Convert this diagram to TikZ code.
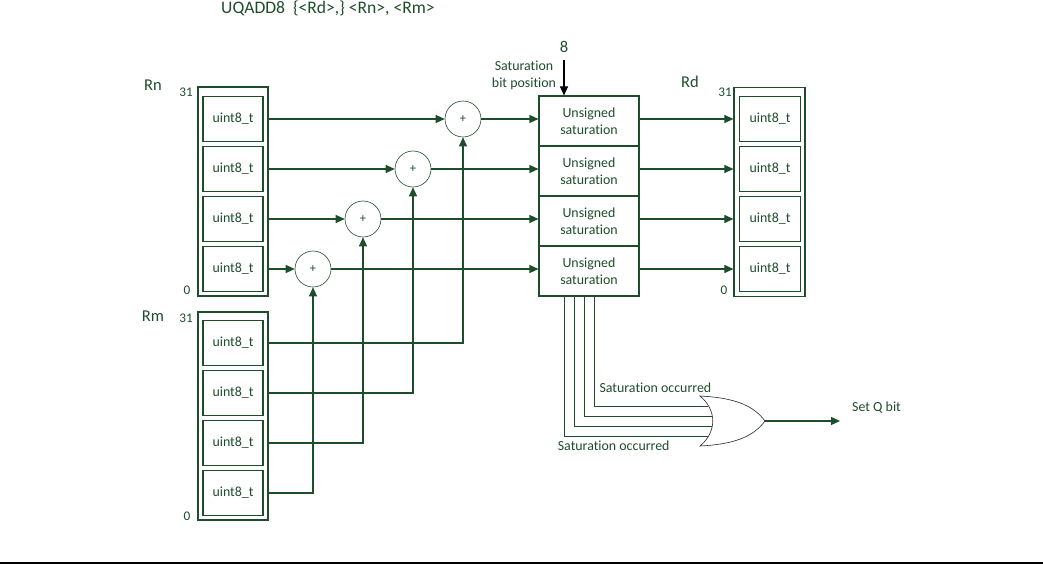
\documentclass[tikz,border=0pt]{standalone}
\usepackage{fontspec}
\setmainfont{Carlito}[Ligatures=NoCommon]
\usetikzlibrary{arrows.meta}
\definecolor{dg}{HTML}{1E4D2B}
\begin{document}
\begin{tikzpicture}[x=1pt,y=-1pt,
  base/.style={font=\fontsize{13.9}{17}\selectfont, text=dg, inner sep=0pt},
  big/.style={base, font=\fontsize{16.5}{19}\selectfont},
  num/.style={base, font=\fontsize{13.2}{15}\selectfont},
  reg/.style={draw=dg, line width=1.2pt, minimum width=70pt, inner sep=0pt},
  cell/.style={base, draw=dg, line width=1.2pt, minimum width=60pt, minimum height=45pt},
  satbox/.style={base, draw=dg, line width=1.1pt, minimum width=100pt, minimum height=50pt, align=center},
  adder/.style={base, circle, draw=dg, line width=0.6pt, minimum size=36pt, font=\fontsize{12.5}{14}\selectfont},
  wire/.style={draw=dg, line width=1.1pt},
  thinwire/.style={draw=dg, line width=0.9pt},
  arr/.style={wire, -{Triangle[length=9pt,width=8pt]}},
]
\useasboundingbox (0,0) rectangle (1043,564);

% title
\node[big, font=\fontsize{17.6}{20}\selectfont, anchor=west] (title) at (221,8) {UQADD8\ \ \{<Rd>,\} <Rn>, <Rm>};

% Rn register
\node[reg, minimum height=209pt] (rn) at (233,191.5) {};
\node[cell] (rn1) at (233,119) {uint8\_t};
\node[cell] (rn2) at (233,169) {uint8\_t};
\node[cell] (rn3) at (233,219) {uint8\_t};
\node[cell] (rn4) at (233,269) {uint8\_t};
\node[big] (rnlbl) at (153,85) {Rn};
\node[num] (rn31) at (186,92) {31};
\node[num] (rn0) at (187,290) {0};

% Rm register
\node[reg, minimum height=208pt] (rm) at (233,416) {};
\node[cell] (rm1) at (233,343) {uint8\_t};
\node[cell] (rm2) at (233,393) {uint8\_t};
\node[cell] (rm3) at (233,443) {uint8\_t};
\node[cell] (rm4) at (233,493) {uint8\_t};
\node[big] (rmlbl) at (153,316) {Rm};
\node[num] (rm31) at (186,318) {31};
\node[num] (rm0) at (187,516) {0};

% adders
\node[adder] (add1) at (463,119) {+};
\node[adder] (add2) at (413,169) {+};
\node[adder] (add3) at (363,219) {+};
\node[adder] (add4) at (313,269) {+};

% saturation boxes
\node[satbox] (sat1) at (589,121) {Unsigned\\saturation};
\node[satbox] (sat2) at (589,171) {Unsigned\\saturation};
\node[satbox] (sat3) at (589,221) {Unsigned\\saturation};
\node[satbox] (sat4) at (589,271) {Unsigned\\saturation};

% Rd register
\node[reg, minimum width=71pt, minimum height=209pt] (rd) at (769.5,192) {};
\node[cell, minimum width=61pt] (rd1) at (770,119) {uint8\_t};
\node[cell, minimum width=61pt] (rd2) at (770,169) {uint8\_t};
\node[cell, minimum width=61pt] (rd3) at (770,219) {uint8\_t};
\node[cell, minimum width=61pt] (rd4) at (770,269) {uint8\_t};
\node[big] (rdlbl) at (690,82) {Rd};
\node[num] (rd31) at (725,92) {31};
\node[num] (rd0) at (724,290) {0};

% saturation bit position
\node[big] (eight) at (564,47) {8};
\node[base, align=center] (bitpos) at (524,75.5) {Saturation\\bit position};
\coordinate (bp) at (564,60);
\draw[line width=1.1pt, black, -{Triangle[length=9pt,width=8pt]}] (bp) -- (bp |- sat1.north);

% Rn -> adders
\draw[arr] (rn.east |- rn1) -- (add1);
\draw[arr] (rn.east |- rn2) -- (add2);
\draw[arr] (rn.east |- rn3) -- (add3);
\draw[arr] (rn.east |- rn4) -- (add4);
% Rm -> adders
\draw[arr] (rm.east |- rm1) -| (add1);
\draw[arr] (rm.east |- rm2) -| (add2);
\draw[arr] (rm.east |- rm3) -| (add3);
\draw[arr] (rm.east |- rm4) -| (add4);
% adders -> saturation
\draw[arr] (add1) -- (add1 -| sat1.west);
\draw[arr] (add2) -- (add2 -| sat2.west);
\draw[arr] (add3) -- (add3 -| sat3.west);
\draw[arr] (add4) -- (add4 -| sat4.west);
% saturation -> Rd
\draw[arr] (sat1.east |- rd1) -- (rd.west |- rd1);
\draw[arr] (sat2.east |- rd2) -- (rd.west |- rd2);
\draw[arr] (sat3.east |- rd3) -- (rd.west |- rd3);
\draw[arr] (sat4.east |- rd4) -- (rd.west |- rd4);

% saturation occurred wires
\coordinate (s1) at (564.3,296);
\coordinate (s2) at (574.3,296);
\coordinate (s3) at (584.3,296);
\coordinate (s4) at (594.3,296);
\coordinate (g1) at (708,436);
\coordinate (g2) at (712,426);
\coordinate (g3) at (712,416);
\coordinate (g4) at (708,406);
\draw[thinwire] (s1) |- (g1);
\draw[thinwire] (s2) |- (g2);
\draw[thinwire] (s3) |- (g3);
\draw[thinwire] (s4) |- (g4);

% OR gate
\coordinate (orout) at (765,421);
\draw[black!85, line width=0.6pt] (700,396) .. controls (717,410) and (717,432) .. (700,446)
  .. controls (740,444) and (755,434) .. (orout)
  .. controls (755,408) and (740,398) .. (700,396) -- cycle;
\coordinate (qend) at (840,421);
\draw[arr] (orout) -- (qend);
\node[base, anchor=west] (setq) at (852,408) {Set Q bit};
\node[base] (occ1) at (655.4,388) {Saturation occurred};
\node[base] (occ2) at (613.7,445.7) {Saturation occurred};

% bottom rule
\coordinate (bl) at (0,563);
\coordinate (br) at (1043,563);
\draw[black, line width=2pt] (bl) -- (br);
\end{tikzpicture}
\end{document}
